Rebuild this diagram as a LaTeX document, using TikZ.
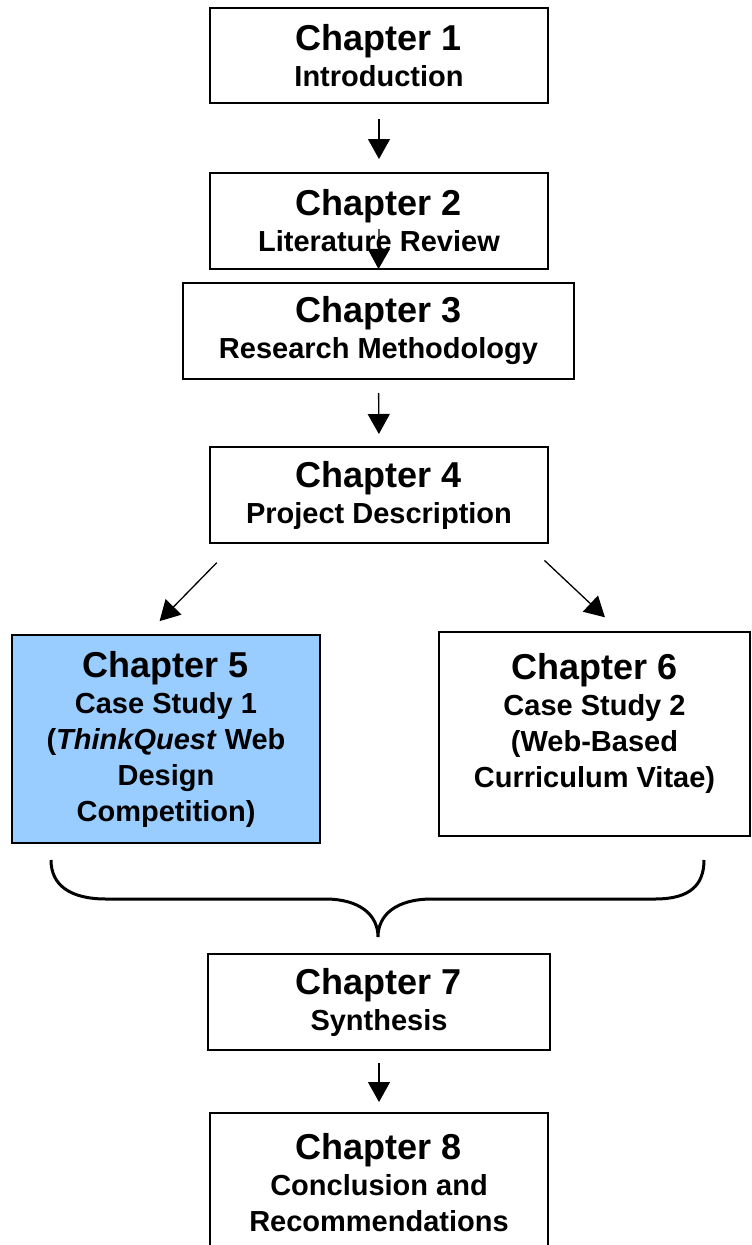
\documentclass[tikz,border=0pt]{standalone}
\usepackage{fontspec}
\setmainfont{Liberation Sans}
\usetikzlibrary{arrows.meta}
\definecolor{casefill}{RGB}{153,204,255}
\tikzset{
  chapbox/.style={draw, line width=2pt, align=center, inner sep=0pt,
    font=\fontsize{29}{36}\selectfont\bfseries},
  arr/.style={-{Triangle[width=22pt,length=20pt]}, line width=1.3pt}
}
\newcommand{\chaptitle}[1]{{\fontsize{36}{36}\selectfont Chapter #1}}
\begin{document}
\begin{tikzpicture}[x=1pt,y=-1pt]
        \useasboundingbox (0,0) rectangle (752,1245);
        \node [chapbox, minimum width=338pt, minimum height=95pt] (ch1) at (379,55.5) {\chaptitle{1}\\Introduction};
        \node [chapbox, minimum width=338pt, minimum height=96pt] (ch2) at (379,221) {\chaptitle{2}\\Literature Review};
        \node [chapbox, minimum width=391pt, minimum height=96pt] (ch3) at (378.5,331) {\chaptitle{3}\\Research Methodology};
        \node [chapbox, minimum width=338pt, minimum height=96pt] (ch4) at (379,495) {\chaptitle{4}\\Project Description};
        \node [chapbox, fill=casefill, minimum width=308pt, minimum height=208pt] (ch5) at (166,739) {\chaptitle{5}\\Case Study 1\\(\textit{ThinkQuest} Web\\Design\\Competition)};
        \node [chapbox, minimum width=311pt, minimum height=204pt] (ch6) at (594.5,734) {\chaptitle{6}\\Case Study 2\\(Web-Based\\Curriculum Vitae)\\[-8pt]\mbox{}};
        \node [chapbox, minimum width=342pt, minimum height=96pt] (ch7) at (379,1002) {\chaptitle{7}\\Synthesis};
        \node [chapbox, minimum width=338pt, minimum height=140pt] (ch8) at (379,1183) {\chaptitle{8}\\Conclusion and\\Recommendations};
        \draw [arr, shorten <=15pt, shorten >=13pt] (ch1.south)--(ch2.north);
        \draw [arr] ([yshift=41pt]ch2.south)--([yshift=13pt]ch3.north);
        \draw [arr, shorten <=13pt, shorten >=12pt] (ch3.south)--(ch4.north);
        \draw [arr, shorten <=26pt, shorten >=18pt] ([xshift=26pt]ch4.south west)--([xshift=-19pt]ch5.north);
        \draw [arr, shorten <=24pt, shorten >=20pt] ([xshift=-22pt]ch4.south east)--([xshift=25pt]ch6.north);
        \draw [arr, shorten <=12pt, shorten >=10pt] (ch7.south)--(ch8.north);
        \draw [line width=3pt] (51,860) .. controls (51,885) and (70,899) .. (106,899) -- (325,899)
              .. controls (360,899) and (378,915) .. (378,937)
              .. controls (378,915) and (396,899) .. (432,899) -- (655,899)
              .. controls (690,899) and (704,885) .. (704,860);
    \end{tikzpicture}
\end{document}
